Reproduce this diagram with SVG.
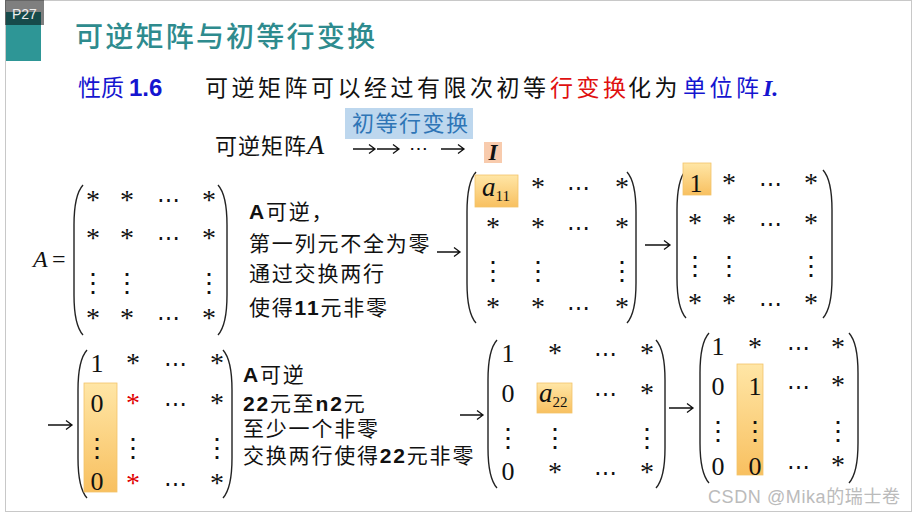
<svg xmlns="http://www.w3.org/2000/svg" width="917" height="516" viewBox="0 0 917 516">
<defs>
<style>
.p{fill:none;stroke:#222;stroke-width:1.4}
.c{fill:none;stroke:#111;stroke-width:1.3}
.t{font-family:"Liberation Serif",serif;font-size:28px;text-anchor:middle;fill:#111}
.d{font-family:"Liberation Serif",serif;font-size:26px;text-anchor:middle;fill:#111}
.h{font-family:"DejaVu Serif",serif;font-size:23px;text-anchor:middle;fill:#111}
.v{font-family:"DejaVu Serif",serif;font-size:26px;text-anchor:middle;fill:#111}
.r{fill:#E00000}
.cn{font-family:"Liberation Sans","Noto Sans CJK SC",sans-serif;font-size:21px;letter-spacing:1.8px;fill:#111}
.b{font-weight:bold}
</style>
<linearGradient id="g" x1="0" y1="0" x2="0" y2="1">
<stop offset="0" stop-color="#FFE6A6"/>
<stop offset="1" stop-color="#F8C060"/>
</linearGradient>
</defs>
<rect x="5.5" y="0.5" width="906" height="511" fill="#fff" stroke="#C8C8C8"/>
<g id="header">
<rect x="6" y="12" width="35" height="49" fill="#2E9696"/>
<rect x="5" y="0" width="39" height="25" fill="#000" fill-opacity="0.5"/>
<text x="12" y="19" font-family="Liberation Sans,sans-serif" font-size="14" fill="#EEE">P27</text>
<text x="75" y="47" font-family="Noto Sans CJK SC,sans-serif" font-size="28" font-weight="500" textLength="300" fill="#2E8B8E">可逆矩阵与初等行变换</text>
</g>
<g id="property">
<text x="78" y="96" font-family="Noto Sans CJK SC,sans-serif" font-size="23" fill="#1515D0">性质<tspan dx="5" font-family="Liberation Sans,sans-serif" font-weight="bold" font-size="24">1.6</tspan></text>
<text y="96" font-family="Noto Sans CJK SC,sans-serif" font-size="23" letter-spacing="3.5" fill="#111"><tspan x="205">可逆矩阵可以经过有限次初等</tspan><tspan x="550" fill="#E01010">行变换</tspan><tspan x="628">化为</tspan><tspan x="683" fill="#1515D0">单位阵</tspan></text>
<text x="763" y="96" font-family="Liberation Serif,serif" font-style="italic" font-weight="bold" font-size="24" fill="#1515D0">I.</text>
</g>
<g id="chain">
<rect x="345" y="108" width="128" height="31" fill="#BDD7EE"/>
<text x="352" y="131" font-family="Noto Sans CJK SC,sans-serif" font-size="22" letter-spacing="1.5" fill="#2E75B6">初等行变换</text>
<text x="215" y="154" font-family="Noto Sans CJK SC,sans-serif" font-size="22" letter-spacing="1" fill="#111">可逆矩阵<tspan font-family="Liberation Serif,serif" font-style="italic" font-size="28" letter-spacing="0">A</tspan></text>
<path class="c" d="M353,149 H375 M369,144.5 L375,149 L369,153.5 M377,149 H399 M393,144.5 L399,149 L393,153.5 M441,149 H464 M458,144.5 L464,149 L458,153.5"/>
<text x="418" y="155" font-family="DejaVu Serif,serif" font-size="19" text-anchor="middle" fill="#111">⋯</text>
<rect x="484" y="142" width="18" height="21" fill="#F8CBAD"/>
<text x="493" y="160" font-family="Liberation Serif,serif" font-style="italic" font-weight="bold" font-size="23" text-anchor="middle" fill="#111">I</text>
</g>
<g id="connectors">
<path class="c" d="M437,252 H460 M454,247.5 L460,252 L454,256.5"/>
<path class="c" d="M645,245 H670 M664,240.5 L670,245 L664,249.5"/>
<path class="c" d="M48,425 H72 M66,420.5 L72,425 L66,429.5"/>
<path class="c" d="M460,415 H483 M477,410.5 L483,415 L477,419.5"/>
<path class="c" d="M669,408 H693 M687,403.5 L693,408 L687,412.5"/>
</g>
<g id="matrix-A">
<text x="33" y="267" font-family="Liberation Serif,serif" font-style="italic" font-size="24" fill="#111">A</text>
<text x="52" y="267" font-family="Liberation Serif,serif" font-size="24" fill="#111">=</text>
<path class="p" d="M83,185 Q74,195 74,225 L74,295 Q74,325 83,335"/>
<path class="p" d="M218,185 Q227,195 227,225 L227,295 Q227,325 218,335"/>
<text class="t" x="93" y="209">*</text><text class="t" x="127" y="209">*</text><text class="h" x="168" y="207">⋯</text><text class="t" x="209" y="209">*</text>
<text class="t" x="93" y="247">*</text><text class="t" x="127" y="247">*</text><text class="h" x="168" y="245">⋯</text><text class="t" x="209" y="247">*</text>
<text class="v" x="93" y="292">⋮</text><text class="v" x="127" y="292">⋮</text><text class="v" x="209" y="292">⋮</text>
<text class="t" x="93" y="327">*</text><text class="t" x="127" y="327">*</text><text class="h" x="168" y="325">⋯</text><text class="t" x="209" y="327">*</text>
</g>
<g id="note-1">
<text class="cn" x="249" y="219"><tspan class="b">A</tspan>可逆，</text>
<text class="cn" x="249" y="251">第一列元不全为零</text>
<text class="cn" x="249" y="281">通过交换两行</text>
<text class="cn" x="249" y="315">使得<tspan class="b">11</tspan>元非零</text>
</g>
<g id="matrix-2">
<path class="p" d="M476,172 Q467,182 467,212 L467,283 Q467,313 476,323"/>
<path class="p" d="M627,172 Q636,182 636,212 L636,283 Q636,313 627,323"/>
<rect x="475" y="175" width="43" height="32" fill="url(#g)" stroke="#F2C46A" stroke-width="0.8"/>
<text x="482" y="196" font-family="Liberation Serif,serif" font-style="italic" font-size="27" fill="#111">a<tspan font-style="normal" font-size="15" dy="5">11</tspan></text>
<text class="t" x="538" y="196">*</text><text class="h" x="578" y="195">⋯</text><text class="t" x="622" y="196">*</text>
<text class="t" x="493" y="236">*</text><text class="t" x="538" y="236">*</text><text class="h" x="578" y="235">⋯</text><text class="t" x="622" y="236">*</text>
<text class="v" x="493" y="280">⋮</text><text class="v" x="538" y="280">⋮</text><text class="v" x="622" y="280">⋮</text>
<text class="t" x="493" y="316">*</text><text class="t" x="538" y="316">*</text><text class="h" x="578" y="315">⋯</text><text class="t" x="622" y="316">*</text>
</g>
<g id="matrix-3">
<path class="p" d="M686,170 Q677,180 677,210 L677,278 Q677,308 686,318"/>
<path class="p" d="M823,170 Q832,180 832,210 L832,278 Q832,308 823,318"/>
<rect x="683" y="163" width="28" height="32" fill="url(#g)" stroke="#F2C46A" stroke-width="0.8"/>
<text class="d" x="696" y="192">1</text>
<text class="t" x="729" y="192">*</text><text class="h" x="770" y="191">⋯</text><text class="t" x="811" y="192">*</text>
<text class="t" x="695" y="232">*</text><text class="t" x="729" y="232">*</text><text class="h" x="770" y="231">⋯</text><text class="t" x="811" y="232">*</text>
<text class="v" x="695" y="275">⋮</text><text class="v" x="729" y="275">⋮</text><text class="v" x="811" y="275">⋮</text>
<text class="t" x="695" y="312">*</text><text class="t" x="729" y="312">*</text><text class="h" x="770" y="311">⋯</text><text class="t" x="811" y="312">*</text>
</g>
<g id="matrix-4">
<path class="p" d="M87,350 Q78,360 78,390 L78,458 Q78,488 87,498"/>
<path class="p" d="M223,350 Q232,360 232,390 L232,458 Q232,488 223,498"/>
<rect x="84" y="383" width="33" height="109" fill="url(#g)" stroke="#F2C46A" stroke-width="0.8"/>
<text class="d" x="97" y="372">1</text><text class="t" x="133" y="372">*</text><text class="h" x="175" y="371">⋯</text><text class="t" x="217" y="372">*</text>
<text class="d" x="97" y="412">0</text><text class="t r" x="133" y="412">*</text><text class="h" x="175" y="411">⋯</text><text class="t" x="217" y="412">*</text>
<text class="v" x="97" y="457">⋮</text><text class="v" x="133" y="457">⋮</text><text class="v" x="217" y="457">⋮</text>
<text class="d" x="97" y="490">0</text><text class="t r" x="133" y="492">*</text><text class="h" x="175" y="491">⋯</text><text class="t" x="217" y="492">*</text>
</g>
<g id="note-2">
<text class="cn" x="243" y="382"><tspan class="b">A</tspan>可逆</text>
<text class="cn" x="243" y="411"><tspan class="b">22</tspan>元至<tspan class="b">n2</tspan>元</text>
<text class="cn" x="243" y="436">至少一个非零</text>
<text class="cn" x="243" y="463">交换两行使得<tspan class="b">22</tspan>元非零</text>
</g>
<g id="matrix-5">
<path class="p" d="M497,340 Q488,350 488,380 L488,448 Q488,478 497,488"/>
<path class="p" d="M656,340 Q665,350 665,380 L665,448 Q665,478 656,488"/>
<rect x="537" y="383" width="35" height="30" fill="url(#g)" stroke="#F2C46A" stroke-width="0.8"/>
<text x="539" y="402" font-family="Liberation Serif,serif" font-style="italic" font-size="27" fill="#111">a<tspan font-style="normal" font-size="15" dy="5">22</tspan></text>
<text class="d" x="508" y="362">1</text><text class="t" x="555" y="362">*</text><text class="h" x="605" y="361">⋯</text><text class="t" x="647" y="362">*</text>
<text class="d" x="508" y="402">0</text><text class="h" x="605" y="401">⋯</text><text class="t" x="647" y="402">*</text>
<text class="v" x="508" y="447">⋮</text><text class="v" x="555" y="447">⋮</text><text class="v" x="647" y="447">⋮</text>
<text class="d" x="508" y="480">0</text><text class="t" x="555" y="481">*</text><text class="h" x="605" y="480">⋯</text><text class="t" x="647" y="481">*</text>
</g>
<g id="matrix-6">
<path class="p" d="M709,333 Q700,343 700,373 L700,443 Q700,473 709,483"/>
<path class="p" d="M849,333 Q858,343 858,373 L858,443 Q858,473 849,483"/>
<rect x="737" y="364" width="26" height="111" fill="url(#g)" stroke="#F2C46A" stroke-width="0.8"/>
<text class="d" x="718" y="355">1</text><text class="t" x="755" y="356">*</text><text class="h" x="798" y="355">⋯</text><text class="t" x="838" y="356">*</text>
<text class="d" x="718" y="395">0</text><text class="d" x="755" y="395">1</text><text class="h" x="798" y="394">⋯</text><text class="t" x="838" y="394">*</text>
<text class="v" x="718" y="440">⋮</text><text class="v" x="755" y="440">⋮</text><text class="v" x="838" y="440">⋮</text>
<text class="d" x="718" y="475">0</text><text class="d" x="755" y="475">0</text><text class="h" x="798" y="474">⋯</text><text class="t" x="838" y="474">*</text>
</g>
<text x="708" y="503" font-family="Liberation Sans,Noto Sans CJK SC,sans-serif" font-size="18" textLength="192" fill="#BBBBBB">CSDN @Mika的瑞士卷</text>
</svg>
